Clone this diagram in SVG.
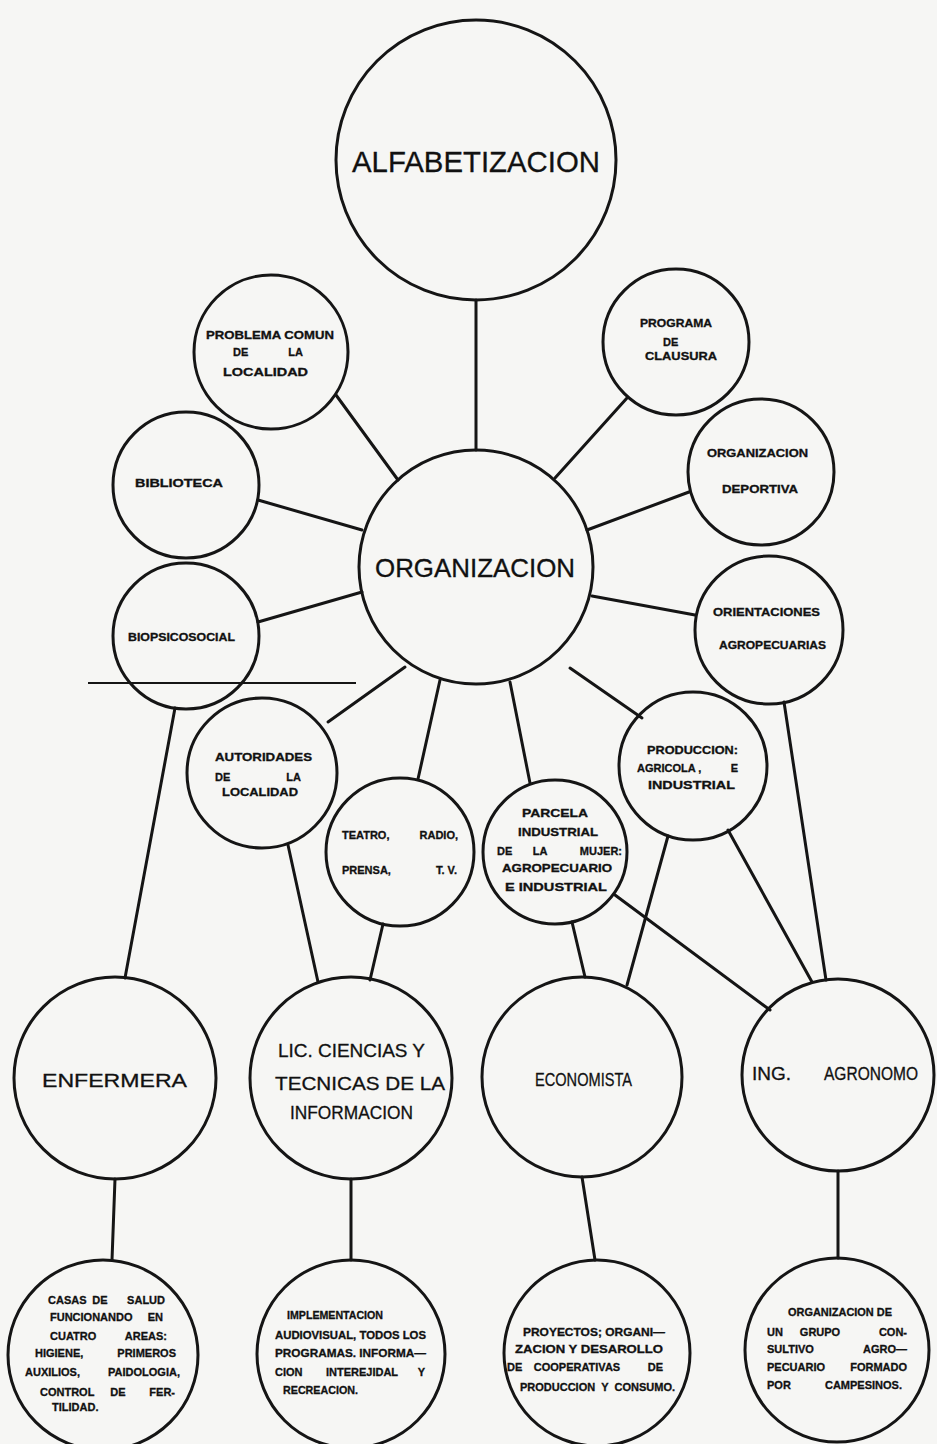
<svg xmlns="http://www.w3.org/2000/svg" width="937" height="1444" viewBox="0 0 937 1444">
<style>
.c{fill:none;stroke:#151515;stroke-width:3}
.l{stroke:#151515;stroke-width:3;fill:none;stroke-linecap:round}
.s{font-family:"Liberation Sans",Arial,sans-serif;font-weight:bold;font-size:11px;fill:#111;stroke:#111;stroke-width:0.3}
.b{font-family:"Liberation Sans",Arial,sans-serif;font-size:19px;fill:#111;stroke:#111;stroke-width:0.3}
.e{text-anchor:end}
.m{text-anchor:middle}
</style>
<rect x="0" y="0" width="937" height="1444" fill="#f6f6f4"/>
<g id="connectors">
<line class="l" x1="476" y1="300" x2="476" y2="450"/>
<line class="l" x1="336" y1="395" x2="398" y2="480"/>
<line class="l" x1="627" y1="398" x2="555" y2="478"/>
<line class="l" x1="258" y1="500" x2="362" y2="530"/>
<line class="l" x1="689" y1="492" x2="587" y2="530"/>
<line class="l" x1="258" y1="622" x2="362" y2="592"/>
<line class="l" x1="695" y1="615" x2="592" y2="596"/>
<line class="l" x1="328" y1="722" x2="405" y2="667"/>
<line class="l" x1="418" y1="779" x2="440" y2="680"/>
<line class="l" x1="530" y1="783" x2="510" y2="682"/>
<line class="l" x1="642" y1="718" x2="570" y2="668"/>
<line class="l" x1="175" y1="708" x2="125" y2="978"/>
<line class="l" x1="288" y1="845" x2="318" y2="982"/>
<line class="l" x1="383" y1="924" x2="370" y2="980"/>
<line class="l" x1="572" y1="922" x2="585" y2="977"/>
<line class="l" x1="668" y1="836" x2="627" y2="985"/>
<line class="l" x1="615" y1="895" x2="770" y2="1010"/>
<line class="l" x1="728" y1="830" x2="812" y2="982"/>
<line class="l" x1="784" y1="702" x2="826" y2="980"/>
<line class="l" x1="115" y1="1179" x2="112" y2="1260"/>
<line class="l" x1="351" y1="1179" x2="351" y2="1260"/>
<line class="l" x1="582" y1="1177" x2="595" y2="1260"/>
<line class="l" x1="838" y1="1171" x2="838" y2="1258"/>
<line x1="88" y1="683" x2="356" y2="683" stroke="#151515" stroke-width="2"/>
</g>
<g id="alfabetizacion"><circle class="c" cx="476" cy="160" r="140"/><text class="b" x="352" y="172" style="font-size:30px" textLength="248" lengthAdjust="spacingAndGlyphs">ALFABETIZACION</text></g>
<g id="organizacion"><circle class="c" cx="476" cy="567" r="117"/><text class="b" x="375" y="577" style="font-size:25px" textLength="200" lengthAdjust="spacingAndGlyphs">ORGANIZACION</text></g>
<g id="problema"><circle class="c" cx="271" cy="352" r="77"/>
<text class="s" x="206" y="339" textLength="128" lengthAdjust="spacingAndGlyphs">PROBLEMA COMUN</text>
<text class="s" y="356"><tspan x="233">DE</tspan><tspan x="303" class="e">LA</tspan></text>
<text class="s" x="223" y="376" textLength="85" lengthAdjust="spacingAndGlyphs">LOCALIDAD</text></g>
<g id="programa"><circle class="c" cx="676" cy="342" r="73"/>
<text class="s" x="640" y="327" textLength="72" lengthAdjust="spacingAndGlyphs">PROGRAMA</text>
<text class="s" x="663" y="346">DE</text>
<text class="s" x="645" y="360" textLength="72" lengthAdjust="spacingAndGlyphs">CLAUSURA</text></g>
<g id="biblioteca"><circle class="c" cx="186" cy="485" r="73"/>
<text class="s" x="135" y="487" textLength="88" lengthAdjust="spacingAndGlyphs">BIBLIOTECA</text></g>
<g id="deportiva"><circle class="c" cx="761" cy="472" r="73"/>
<text class="s" x="707" y="457" textLength="101" lengthAdjust="spacingAndGlyphs">ORGANIZACION</text>
<text class="s" x="722" y="493" textLength="76" lengthAdjust="spacingAndGlyphs">DEPORTIVA</text></g>
<g id="biopsicosocial"><circle class="c" cx="186" cy="636" r="73"/>
<text class="s" x="128" y="641" textLength="107" lengthAdjust="spacingAndGlyphs">BIOPSICOSOCIAL</text></g>
<g id="orientaciones"><circle class="c" cx="769" cy="630" r="74"/>
<text class="s" x="713" y="616" textLength="107" lengthAdjust="spacingAndGlyphs">ORIENTACIONES</text>
<text class="s" x="719" y="649" textLength="107" lengthAdjust="spacingAndGlyphs">AGROPECUARIAS</text></g>
<g id="autoridades"><circle class="c" cx="262" cy="773" r="75"/>
<text class="s" x="215" y="761" textLength="97" lengthAdjust="spacingAndGlyphs">AUTORIDADES</text>
<text class="s" y="781"><tspan x="215">DE</tspan><tspan x="301" class="e">LA</tspan></text>
<text class="s" x="222" y="796" textLength="76" lengthAdjust="spacingAndGlyphs">LOCALIDAD</text></g>
<g id="teatro"><circle class="c" cx="400" cy="852" r="74"/>
<text class="s" y="839"><tspan x="342">TEATRO,</tspan><tspan x="458" class="e">RADIO,</tspan></text>
<text class="s" y="874"><tspan x="342">PRENSA,</tspan><tspan x="457" class="e">T.  V.</tspan></text></g>
<g id="parcela"><circle class="c" cx="555" cy="852" r="72"/>
<text class="s" x="522" y="817" textLength="66" lengthAdjust="spacingAndGlyphs">PARCELA</text>
<text class="s" x="518" y="836" textLength="80" lengthAdjust="spacingAndGlyphs">INDUSTRIAL</text>
<text class="s" y="855"><tspan x="497">DE</tspan><tspan x="540" class="m">LA</tspan><tspan x="622" class="e">MUJER:</tspan></text>
<text class="s" x="502" y="872" textLength="110" lengthAdjust="spacingAndGlyphs">AGROPECUARIO</text>
<text class="s" x="505" y="891" textLength="102" lengthAdjust="spacingAndGlyphs">E INDUSTRIAL</text></g>
<g id="produccion"><circle class="c" cx="693" cy="766" r="74"/>
<text class="s" x="647" y="754" textLength="91" lengthAdjust="spacingAndGlyphs">PRODUCCION:</text>
<text class="s" y="772"><tspan x="637">AGRICOLA ,</tspan><tspan x="738" class="e">E</tspan></text>
<text class="s" x="648" y="789" textLength="87" lengthAdjust="spacingAndGlyphs">INDUSTRIAL</text></g>
<g id="enfermera"><circle class="c" cx="115" cy="1078" r="101"/>
<text class="b" x="42" y="1087" textLength="145" lengthAdjust="spacingAndGlyphs">ENFERMERA</text></g>
<g id="lic"><circle class="c" cx="351" cy="1078" r="101"/>
<text class="b" x="278" y="1057" textLength="147" lengthAdjust="spacingAndGlyphs">LIC. CIENCIAS Y</text>
<text class="b" x="275" y="1090" textLength="170" lengthAdjust="spacingAndGlyphs">TECNICAS DE LA</text>
<text class="b" x="290" y="1119" textLength="123" lengthAdjust="spacingAndGlyphs">INFORMACION</text></g>
<g id="economista"><circle class="c" cx="582" cy="1077" r="100"/>
<text class="b" x="535" y="1086" textLength="97" lengthAdjust="spacingAndGlyphs">ECONOMISTA</text></g>
<g id="agronomo"><circle class="c" cx="838" cy="1075" r="96"/>
<text class="b" x="752" y="1080">ING.</text>
<text class="b" x="824" y="1080" style="font-size:17.5px" textLength="94" lengthAdjust="spacingAndGlyphs">AGRONOMO</text></g>
<g id="casas"><circle class="c" cx="103" cy="1355" r="95"/>
<text class="s" y="1304"><tspan x="48">CASAS</tspan><tspan x="100" class="m">DE</tspan><tspan x="165" class="e">SALUD</tspan></text>
<text class="s" y="1321"><tspan x="50">FUNCIONANDO</tspan><tspan x="163" class="e">EN</tspan></text>
<text class="s" y="1340"><tspan x="50">CUATRO</tspan><tspan x="167" class="e">AREAS:</tspan></text>
<text class="s" y="1357"><tspan x="35">HIGIENE,</tspan><tspan x="176" class="e">PRIMEROS</tspan></text>
<text class="s" y="1376"><tspan x="25">AUXILIOS,</tspan><tspan x="180" class="e">PAIDOLOGIA,</tspan></text>
<text class="s" y="1396"><tspan x="40">CONTROL</tspan><tspan x="118" class="m">DE</tspan><tspan x="175" class="e">FER-</tspan></text>
<text class="s" x="52" y="1411">TILIDAD.</text></g>
<g id="implementacion"><circle class="c" cx="351" cy="1354" r="94"/>
<text class="s" x="287" y="1319" textLength="96" lengthAdjust="spacingAndGlyphs">IMPLEMENTACION</text>
<text class="s" x="275" y="1339" textLength="151" lengthAdjust="spacingAndGlyphs">AUDIOVISUAL, TODOS LOS</text>
<text class="s" x="275" y="1357" textLength="151" lengthAdjust="spacingAndGlyphs">PROGRAMAS. INFORMA—</text>
<text class="s" y="1376"><tspan x="275">CION</tspan><tspan x="362" class="m">INTEREJIDAL</tspan><tspan x="425" class="e">Y</tspan></text>
<text class="s" x="283" y="1394" textLength="75" lengthAdjust="spacingAndGlyphs">RECREACION.</text></g>
<g id="proyectos"><circle class="c" cx="597" cy="1353" r="93"/>
<text class="s" x="523" y="1336" textLength="142" lengthAdjust="spacingAndGlyphs">PROYECTOS; ORGANI—</text>
<text class="s" x="515" y="1353" textLength="148" lengthAdjust="spacingAndGlyphs">ZACION Y DESAROLLO</text>
<text class="s" y="1371"><tspan x="507">DE</tspan><tspan x="577" class="m">COOPERATIVAS</tspan><tspan x="663" class="e">DE</tspan></text>
<text class="s" y="1391"><tspan x="520">PRODUCCION</tspan><tspan x="605" class="m">Y</tspan><tspan x="675" class="e">CONSUMO.</tspan></text></g>
<g id="grupo"><circle class="c" cx="837" cy="1350" r="92"/>
<text class="s" x="788" y="1316" textLength="104" lengthAdjust="spacingAndGlyphs">ORGANIZACION DE</text>
<text class="s" y="1336"><tspan x="767">UN</tspan><tspan x="820" class="m">GRUPO</tspan><tspan x="907" class="e">CON-</tspan></text>
<text class="s" y="1353"><tspan x="767">SULTIVO</tspan><tspan x="907" class="e">AGRO—</tspan></text>
<text class="s" y="1371"><tspan x="767">PECUARIO</tspan><tspan x="907" class="e">FORMADO</tspan></text>
<text class="s" y="1389"><tspan x="767">POR</tspan><tspan x="902" class="e">CAMPESINOS.</tspan></text></g>
</svg>
